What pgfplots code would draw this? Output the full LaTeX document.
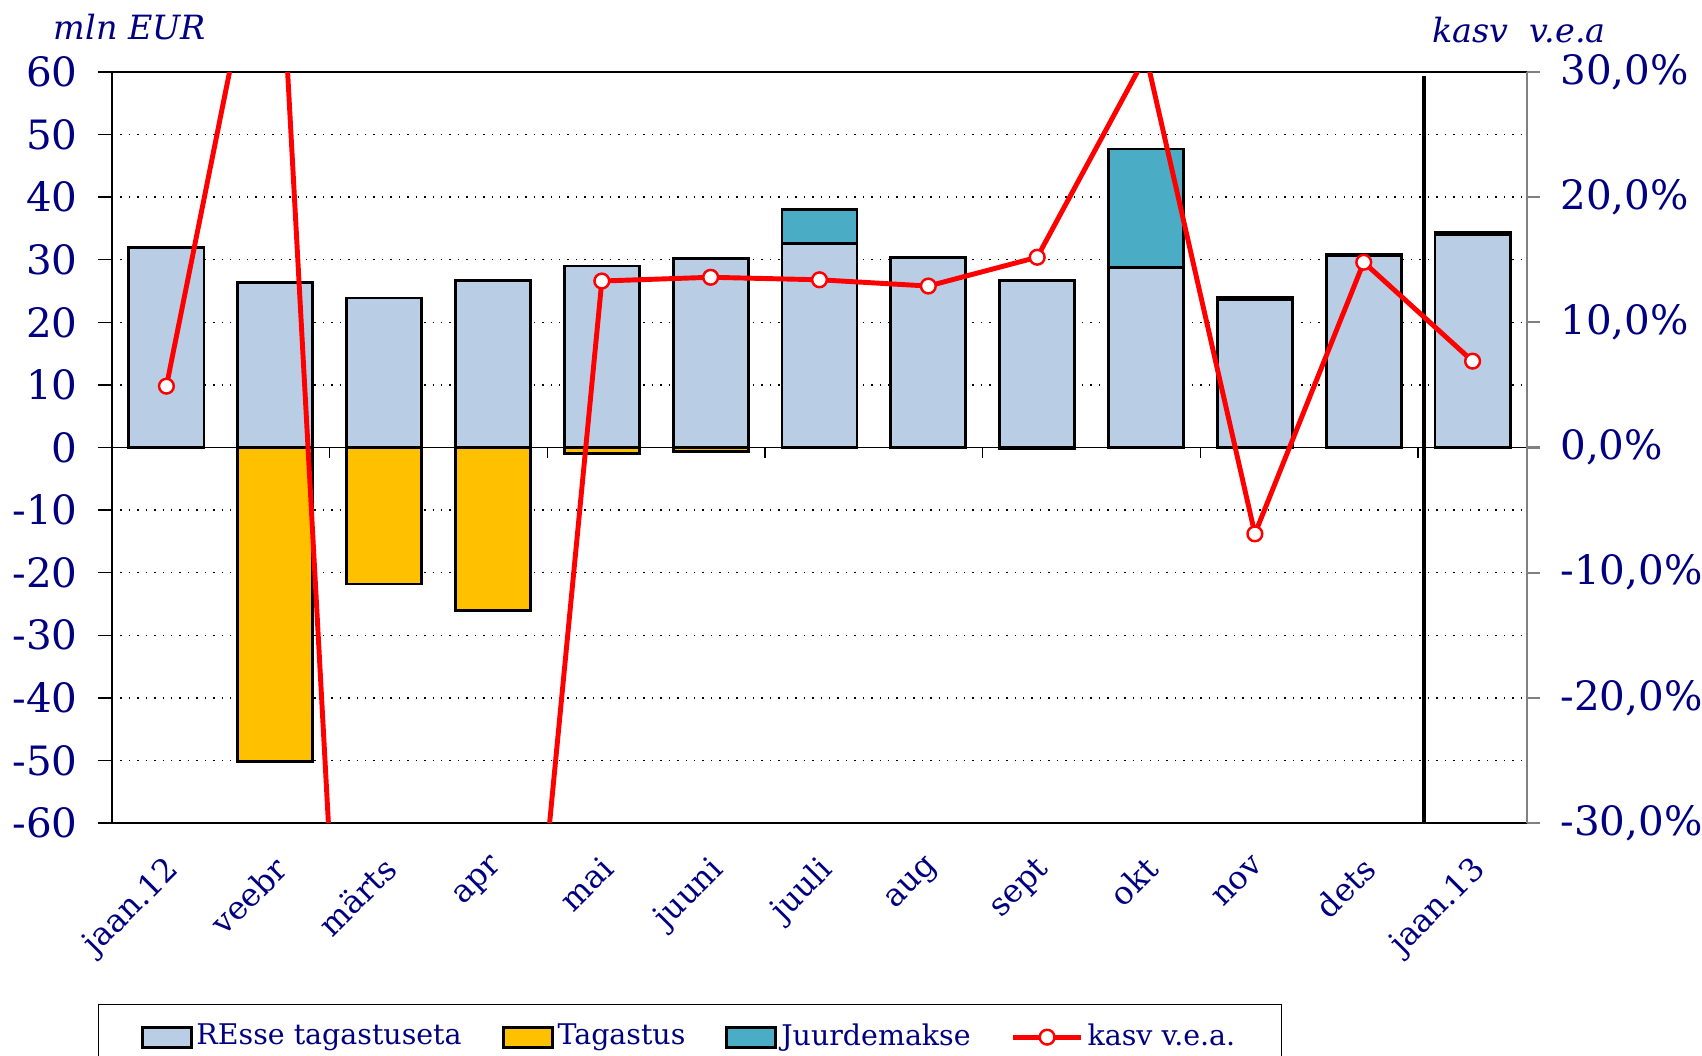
\documentclass[border=0pt]{standalone}
\usepackage{pgfplots}
\usepackage{pgfplotstable}
\pgfplotsset{compat=1.18}
\usepackage{fontspec}
\setmainfont{DejaVu Serif}

\definecolor{navy}{RGB}{0,0,128}
\definecolor{resse}{RGB}{185,205,229}
\definecolor{tagast}{RGB}{255,192,0}
\definecolor{juurde}{RGB}{75,172,198}

\pgfplotsset{
    linelegend/.style={legend image code/.code={%
        \draw[mark repeat=2, mark phase=2, ##1] plot coordinates {(0cm,0cm) (0.34cm,0cm) (0.68cm,0cm)};}},
    boxlegend/.style={legend image code/.code={%
        \draw[fill=#1, draw=black, line width=0.8pt] (0cm,-0.1cm) rectangle (0.49cm,0.1cm);}},
}

% x: month index, mln EUR for bars, kasv in %
\pgfplotstableread{
x  resse tagastus juurde kasv
0  31.9   0.0    0.0    4.9
1  26.4  -50.2   0.0    48.2
2  23.9  -21.8   0.0   -112
3  26.7  -26.0   0.0   -77
4  29.0   -1.0   0.0    13.3
5  30.2   -0.6   0.0    13.6
6  32.6    0.0   5.4    13.4
7  30.3    0.0   0.0    12.9
8  26.7   -0.2   0.0    15.2
9  28.8    0.0  18.9    31.3
10 23.6    0.0   0.4   -6.9
11 30.6    0.0   0.3    14.8
12 34.0    0.0   0.3    6.9
}\data

\begin{document}
\begin{tikzpicture}
\useasboundingbox (0,0) rectangle (17.02,10.56);

\begin{axis}[
    at={(1.12cm,2.33cm)}, anchor=south west,
    scale only axis, width=14.15cm, height=7.51cm,
    xmin=-0.5, xmax=12.5, ymin=-60, ymax=60,
    axis y line*=left,
    axis line style={black, line width=0.75pt},
    xtick={0,...,12},
    xticklabels={jaan.12,veebr,märts,apr,mai,juuni,juuli,aug,sept,okt,nov,dets,jaan.13},
    xtick style={draw=none},
    xticklabel style={rotate=45, anchor=north east, font=\fontsize{9.1}{11}\selectfont, text=navy, yshift=0.02cm, xshift=-0.02cm},
    ytick={-60,-50,...,60},
    ytick style={black, line width=0.4pt},
    yticklabel style={font=\fontsize{11.5}{13}\selectfont, text=navy, xshift=-0.08cm},
    /pgf/number format/assume math mode=true,
    tick align=outside, major tick length=0.14cm,
    ymajorgrids, grid style={black, dotted, line width=0.4pt},
    extra y ticks={0}, extra y tick labels={},
    extra y tick style={grid=major, grid style={solid, black, line width=0.5pt}},
]
\addplot[ybar, bar width=0.69, bar shift=0pt, fill=juurde, draw=black, line width=0.8pt]
    table[x=x, y expr=\thisrow{resse}+\thisrow{juurde}] {\data};
\addplot[ybar, bar width=0.69, bar shift=0pt, fill=resse, draw=black, line width=0.8pt]
    table[x=x, y=resse] {\data};
\addplot[ybar, bar width=0.69, bar shift=0pt, fill=tagast, draw=black, line width=0.8pt]
    table[x=x, y=tagastus] {\data};
\pgfplotsinvokeforeach{1.5,3.5,5.5,7.5,9.5,11.5}{
    \draw[black, line width=0.4pt] (axis cs:#1,0) -- (axis cs:#1,-1.6);
}
\draw[black, line width=1.1pt] (axis cs:11.55,59.3) -- (axis cs:11.55,-60);
\end{axis}

\begin{axis}[
    at={(1.12cm,2.33cm)}, anchor=south west,
    scale only axis, width=14.15cm, height=7.51cm,
    xmin=-0.5, xmax=12.5, ymin=-30, ymax=30,
    axis y line*=right, axis x line=none,
    axis line style={gray, line width=0.7pt},
    ytick={-30,-20,...,30},
    yticklabel={\pgfmathprintnumber[fixed,fixed zerofill,precision=1,use comma,assume math mode=true]{\tick}\%},
    yticklabel style={font=\fontsize{11.5}{13}\selectfont, text=navy, xshift=0.08cm},
    ytick style={gray, line width=0.6pt},
    tick align=outside, major tick length=0.13cm,
    legend columns=4,
    legend style={at={(-0.0099,-0.241)}, anchor=north west, draw=black, line width=0.4pt,
        font=\fontsize{8.1}{10}\selectfont, text=navy, inner xsep=0.42cm, inner ysep=0.12cm,
        nodes={inner xsep=0.04cm},
        /tikz/every even column/.append style={column sep=0.36cm}},
]
\addlegendimage{boxlegend=resse}
\addlegendentry{REsse tagastuseta}
\addlegendimage{boxlegend=tagast}
\addlegendentry{Tagastus}
\addlegendimage{boxlegend=juurde}
\addlegendentry{Juurdemakse}
\addplot[red, line width=1.4pt, mark=*, mark size=2.1pt, mark options={fill=white, draw=red, line width=0.7pt}, linelegend]
    table[x=x, y=kasv] {\data};
\addlegendentry{kasv v.e.a.}
\end{axis}

\node[font=\fontsize{9.5}{11}\selectfont\itshape, text=navy] at (1.30,10.29) {mln EUR};
\node[font=\fontsize{9.5}{11}\selectfont\itshape, text=navy] at (15.19,10.26) {kasv\ \ v.e.a};
\end{tikzpicture}
\end{document}
